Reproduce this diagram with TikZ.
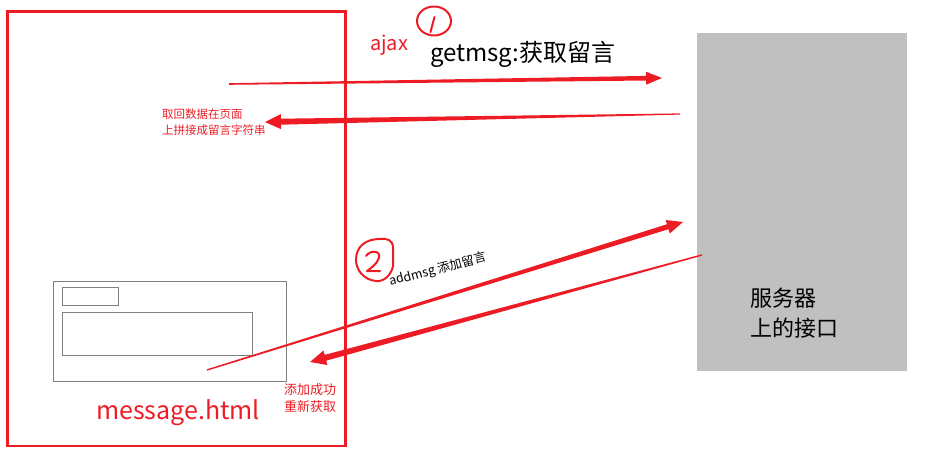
\documentclass[tikz,border=0pt]{standalone}
\usepackage{fontspec}
\setmainfont{Noto Sans CJK SC}
\usetikzlibrary{calc}
\definecolor{pred}{HTML}{ED1C24}
\definecolor{sgray}{HTML}{C0C0C0}
\definecolor{fgray}{HTML}{808080}
\newcommand\taperarrow[6]{%
  \coordinate (ta-base) at ($(#2)!#5!(#1)$);
  \fill[pred] ($(#1)!#3!90:(#2)$) -- ($(ta-base)!#4!90:(#2)$) -- ($(ta-base)!#6!90:(#2)$) -- (#2) -- ($(ta-base)!#6!-90:(#2)$) -- ($(ta-base)!#4!-90:(#2)$) -- ($(#1)!#3!-90:(#2)$) -- cycle;}
\tikzset{
  redtxt/.style={text=pred, inner sep=0pt},
  blktxt/.style={text=black, inner sep=0pt},
  formbox/.style={draw=fgray, line width=1pt},
  mark1/.style={draw=pred, line width=2pt, line cap=round, line join=round},
}
\begin{document}
\begin{tikzpicture}[x=1pt,y=-1pt]
\useasboundingbox (0,0) rectangle (928,457);
% page frame
\draw[pred, line width=2.6pt] (7.5,11.5) rectangle (345.5,446) ;
\node[redtxt, font=\fontsize{25}{28}\selectfont] (page) at (178,413) {message.html};
% form boxes
\draw[formbox] (53.5,281.5) rectangle (286,381) node[pos=0, coordinate] (form) {};
\draw[formbox] (62,287) rectangle (118,305);
\draw[formbox] (62,312) rectangle (252,355);
% server
\fill[sgray] (697,33) rectangle (907,371);
\node[blktxt, anchor=north west, align=left, font=\fontsize{22}{30}\selectfont] (server) at (750,288) {服务器\\上的接口};
% labels
\node[redtxt, anchor=west, font=\fontsize{20}{24}\selectfont] (ajax) at (370,45) {ajax};
\node[blktxt, anchor=west, font=\fontsize{24}{28}\selectfont] (getmsg) at (430,54) {getmsg:获取留言};
\node[redtxt, anchor=north west, align=left, font=\fontsize{11.5}{16}\selectfont] (back) at (162,109) {取回数据在页面\\上拼接成留言字符串};
\node[redtxt, anchor=north west, align=left, font=\fontsize{13}{17}\selectfont] (ok) at (284,383) {添加成功\\重新获取};
\node[blktxt, rotate=14.5, anchor=south west, font=\fontsize{12.5}{14}\selectfont] (addmsg) at (391,289) {addmsg 添加留言};
% hand-drawn marks
\draw[mark1] (434,21) ellipse [x radius=17, y radius=14.5];
\draw[mark1] (434.5,17) -- (430.5,32);
\draw[mark1] (380,239) .. controls (387,238) and (393,240) .. (393,248) -- (393,266) .. controls (391,276) and (383,282) .. (376,281) .. controls (364,280) and (356,270) .. (356,260) .. controls (356,246) and (366,239) .. (380,239);
\draw[mark1] (366,256) .. controls (370,250) and (381,250) .. (379,258) .. controls (377,264) and (371,268) .. (367,271) -- (380,271);
% connectors
\coordinate (a1s) at (229,84);
\coordinate (a1e) at (662,78);
\coordinate (a2s) at (680,114);
\coordinate (a2e) at (265,122);
\coordinate (a3s) at (207,370);
\coordinate (a3e) at (683,222);
\coordinate (a4s) at (702,255);
\coordinate (a4e) at (310,362);
\taperarrow{a1s}{a1e}{0.8pt}{2.3pt}{16pt}{6.5pt}
\taperarrow{a2s}{a2e}{0.6pt}{3pt}{16pt}{7.5pt}
\taperarrow{a3s}{a3e}{0.7pt}{2.6pt}{16pt}{7pt}
\taperarrow{a4s}{a4e}{0.7pt}{3pt}{16pt}{7.5pt}
\end{tikzpicture}
\end{document}
